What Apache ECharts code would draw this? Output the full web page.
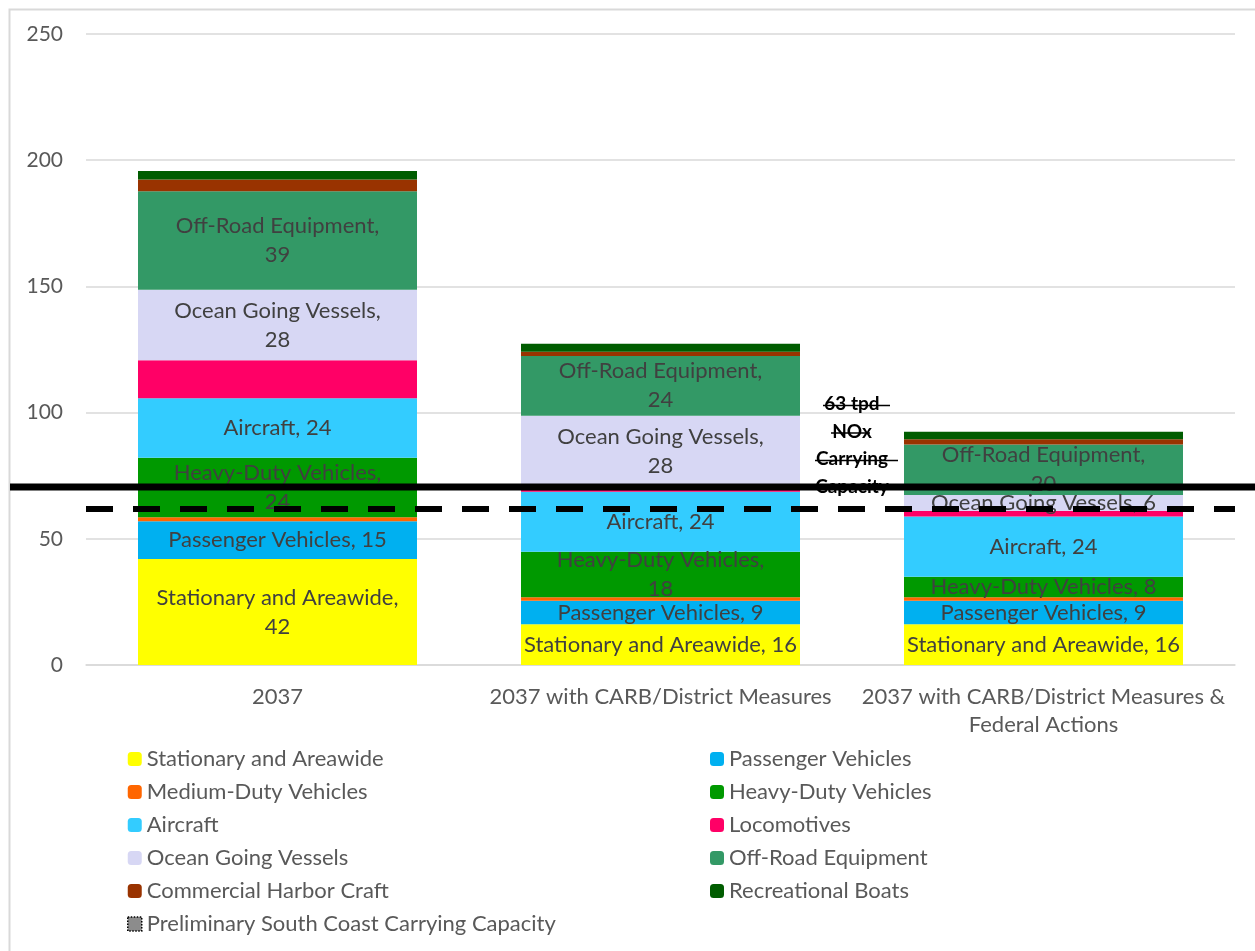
<!DOCTYPE html>
<html>
<head>
<meta charset="utf-8">
<script src="https://cdn.jsdelivr.net/npm/echarts@6/dist/echarts.min.js"></script>
<style>
  html, body { margin: 0; padding: 0; background: #fff; }
  #main { width: 1255px; height: 951px; }
</style>
</head>
<body>
<div id="main"></div>
<script>
// data (tpd NOx)
var categories = ['2037', '2037 with CARB/District Measures', '2037 with CARB/District Measures &\nFederal Actions'];
var stationary = [42, 16.1, 16.1];
var passenger = [15, 9.4, 9.4];
var mediumDuty = [1.5, 1.3, 1.3];
var heavyDuty = [23.6, 18.1, 8.2];
var aircraft = [23.6, 23.7, 23.8];
var locomotives = [15, 1.9, 2.2];
var oceanVessels = [28, 28.3, 6.4];
var offRoad = [39, 23.6, 20];
var harborCraft = [4.7, 1.7, 2];
var recBoats = [3.3, 3.2, 3];
var carryingCapacity = 62;   // dashed line
var solidLineValue = 70.5;   // solid drawn line
var yTicks = [0, 50, 100, 150, 200, 250];

// labels that Excel broke onto two lines (series -> category indexes)
var wrapped = {
    'Stationary and Areawide': [0],
    'Heavy-Duty Vehicles': [0, 1],
    'Ocean Going Vessels': [0, 1],
    'Off-Road Equipment': [0, 1, 2]
};

var font = 'Lato';
var myChart = echarts.init(document.getElementById('main'));

function barSeries(name, data, color, showLabel) {
    return {
        name: name,
        type: 'bar',
        stack: 'total',
        data: data,
        barWidth: 279,
        itemStyle: { color: color },
        label: {
            show: showLabel,
            position: 'inside',
            color: '#404040',
            fontFamily: font,
            fontSize: 22,
            lineHeight: 29,
            formatter: function (p) {
                var v = Math.round(p.value);
                var w = wrapped[p.seriesName] || [];
                return w.indexOf(p.dataIndex) >= 0 ? p.seriesName + ',\n' + v : p.seriesName + ', ' + v;
            }
        },
        emphasis: { disabled: true }
    };
}

option = {
    backgroundColor: '#fff',
    animation: false,
    grid: { left: 86, right: 20, top: 34, bottom: 286 },
    legend: [
        {
            orient: 'vertical', left: 122, top: 743,
            itemWidth: 14, itemHeight: 14, itemGap: 11,
            textStyle: { fontFamily: font, fontSize: 22, lineHeight: 22, color: '#595959' },
            data: ['Stationary and Areawide', 'Medium-Duty Vehicles', 'Aircraft', 'Ocean Going Vessels', 'Commercial Harbor Craft',
                {
                    name: 'Preliminary South Coast Carrying Capacity', icon: 'rect',
                    itemStyle: { color: '#8c8c8c', borderColor: '#000', borderWidth: 1.5, borderType: 'dotted' }
                }]
        },
        {
            orient: 'vertical', left: 705, top: 743,
            itemWidth: 14, itemHeight: 14, itemGap: 11,
            textStyle: { fontFamily: font, fontSize: 22, lineHeight: 22, color: '#595959' },
            data: ['Passenger Vehicles', 'Heavy-Duty Vehicles', 'Locomotives', 'Off-Road Equipment', 'Recreational Boats']
        }
    ],
    xAxis: {
        type: 'category',
        data: categories,
        axisLine: { lineStyle: { color: '#d9d9d9', width: 1.5 } },
        axisTick: { show: false },
        axisLabel: { interval: 0, fontFamily: font, fontSize: 22, lineHeight: 28, color: '#595959', margin: 18 }
    },
    yAxis: {
        type: 'value',
        min: yTicks[0],
        max: yTicks[yTicks.length - 1],
        interval: 50,
        axisLine: { show: false },
        axisTick: { show: false },
        splitLine: { lineStyle: { color: '#d9d9d9', width: 1.5 } },
        axisLabel: { fontFamily: font, fontSize: 21, color: '#595959', margin: 23 }
    },
    series: [
        barSeries('Stationary and Areawide', stationary, '#ffff00', true),
        barSeries('Passenger Vehicles', passenger, '#00b0f0', true),
        barSeries('Medium-Duty Vehicles', mediumDuty, '#ff6600', false),
        barSeries('Heavy-Duty Vehicles', heavyDuty, '#009900', true),
        barSeries('Aircraft', aircraft, '#33ccff', true),
        barSeries('Locomotives', locomotives, '#ff0066', false),
        barSeries('Ocean Going Vessels', oceanVessels, '#d7d7f4', true),
        barSeries('Off-Road Equipment', offRoad, '#339966', true),
        barSeries('Commercial Harbor Craft', harborCraft, '#993300', false),
        barSeries('Recreational Boats', recBoats, '#005c00', false),
        {
            name: 'Preliminary South Coast Carrying Capacity',
            type: 'line',
            data: [],
            markLine: {
                silent: true,
                symbol: 'none',
                z: 10,
                label: { show: false },
                lineStyle: { color: '#000', width: 6, type: [27, 20] },
                data: [{ yAxis: carryingCapacity }]
            }
        }
    ]
};

myChart.setOption(option);

// drawn annotations: outer border, solid line and struck-through text box
var ySolid = myChart.convertToPixel({ yAxisIndex: 0 }, solidLineValue);
var noteX = 852, noteY = 404;
var noteLines = ['63 tpd', 'NOx', 'Carrying', 'Capacity'];
var strikes = [[823, 890], [831, 870], [815, 898], [815, 888]];
var graphics = [
    { type: 'rect', left: 7, top: 7, shape: { width: 1270, height: 970 }, style: { fill: 'none', stroke: '#d9d9d9', lineWidth: 2 }, z: 0 }
];
for (var i = 0; i < noteLines.length; i++) {
    var ly = noteY + i * 27.5;
    graphics.push({
        type: 'text', x: noteX, y: ly, z: 50,
        style: { text: noteLines[i], fill: '#000', font: 'bold 19px Lato', align: 'center', verticalAlign: 'middle' }
    });
    graphics.push({
        type: 'line', z: 51,
        shape: { x1: strikes[i][0], y1: ly + 1.5, x2: strikes[i][1], y2: ly + 1.5 },
        style: { stroke: '#000', lineWidth: 1.5 }
    });
}
graphics.push({
    type: 'line', z: 100,
    shape: { x1: 10, y1: ySolid, x2: 1255, y2: ySolid },
    style: { stroke: '#000', lineWidth: 7 }
});
myChart.setOption({ graphic: graphics });
</script>
</body>
</html>
